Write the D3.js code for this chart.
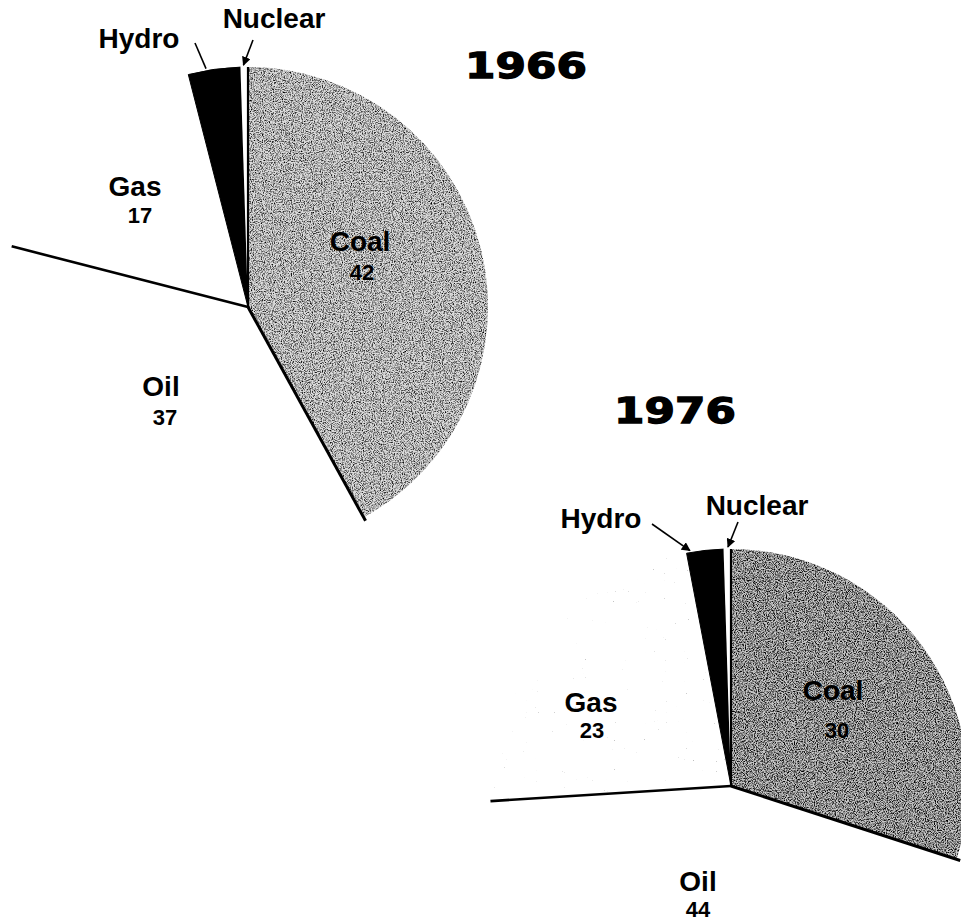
<!DOCTYPE html>
<html>
<head>
<meta charset="utf-8">
<script src="https://cdn.jsdelivr.net/npm/d3@7"></script>
<style>
  html, body { margin: 0; padding: 0; background: #fff; }
  svg { display: block; }
  .slice-label { font-family: "Liberation Sans", Arial, sans-serif; font-weight: bold; font-size: 28px; fill: #000; }
  .slice-value { font-family: "Liberation Sans", Arial, sans-serif; font-weight: bold; font-size: 22px; fill: #000; }
  .year { font-family: "DejaVu Sans", sans-serif; font-weight: bold; font-size: 35px; fill: #000; stroke: #000; stroke-width: 1.3px; }
</style>
</head>
<body>
<script>
'use strict';

// ── Data ──────────────────────────────────────────────────────
const fuels       = ['Coal', 'Oil', 'Gas', 'Hydro', 'Nuclear'];
const years       = ['1966', '1976'];
const shares1966  = [42, 37, 17, 3.5, 0.5];
const shares1976  = [30, 44, 23, 2.5, 0.5];
const shownValues = { '1966': ['42', '37', '17', '', ''], '1976': ['30', '44', '23', '', ''] };

// ── Layout ────────────────────────────────────────────────────
const WIDTH  = 961;
const HEIGHT = 922;

const charts = [
  { year: years[0], shares: shares1966, cx: 248, cy: 307, r: 240,
    title: [526, 78], coalBase: '#dcdcdc', coalGrain: 'grainLight', gasGrain: null,
    labels: { Coal: [360, 251, 362, 280], Oil: [161, 396, 165, 425], Gas: [135, 196, 140, 223] },
    callouts: {
      Hydro:   { text: [139, 48], from: [195, 43], t: 0.35, arrow: false },
      Nuclear: { text: [274, 28], from: [253, 40], t: 0.4,  arrow: true }
    } },
  { year: years[1], shares: shares1976, cx: 731, cy: 786, r: 237,
    title: [675, 423], coalBase: '#c6c6c6', coalGrain: 'grainDark', gasGrain: 'grainSparse',
    labels: { Coal: [833, 700, 837, 738], Oil: [698, 891, 698, 917], Gas: [591, 712, 592, 738] },
    callouts: {
      Hydro:   { text: [601, 528], from: [652, 524], t: 0.1, arrow: true },
      Nuclear: { text: [757, 515], from: [738, 522], t: 0.6, arrow: true }
    } }
];

const svg = d3.select('body').append('svg')
  .attr('width', WIDTH)
  .attr('height', HEIGHT);

const defs = svg.append('defs');

// stipple textures: black dots whose alpha comes from turbulence noise
function addGrain(id, freq, gain, offset, seed) {
  const f = defs.append('filter')
    .attr('id', id)
    .attr('x', '-5%').attr('y', '-5%')
    .attr('width', '110%').attr('height', '110%');
  f.append('feTurbulence')
    .attr('type', 'fractalNoise')
    .attr('baseFrequency', freq)
    .attr('numOctaves', 2)
    .attr('seed', seed)
    .attr('result', 'noise');
  f.append('feColorMatrix')
    .attr('in', 'noise')
    .attr('type', 'matrix')
    .attr('values', `0 0 0 0 0  0 0 0 0 0  0 0 0 0 0  ${gain} 0 0 0 ${offset}`)
    .attr('result', 'dots');
  f.append('feComposite')
    .attr('in', 'dots')
    .attr('in2', 'SourceGraphic')
    .attr('operator', 'in');
}
addGrain('grainLight',  0.9, 2.4, -1.0, 4);
addGrain('grainDark',   0.9, 2.8, -1.1, 9);
addGrain('grainSparse', 0.9, 3.0, -2.4, 2);

defs.append('marker')
  .attr('id', 'arrowhead')
  .attr('viewBox', '0 -5 10 10')
  .attr('refX', 9)
  .attr('refY', 0)
  .attr('markerWidth', 9)
  .attr('markerHeight', 9)
  .attr('markerUnits', 'userSpaceOnUse')
  .attr('orient', 'auto')
  .append('path')
    .attr('d', 'M0,-5L10,0L0,5Z')
    .attr('fill', '#000');

const pie = d3.pie().sort(null).value(d => d.value);

charts.forEach(chart => {
  const rows = fuels.map((f, i) => ({ fuel: f, value: chart.shares[i], shown: shownValues[chart.year][i] }));
  const arcs = pie(rows);
  const arc  = d3.arc().innerRadius(0).outerRadius(chart.r);

  const g = svg.append('g')
    .attr('transform', `translate(${chart.cx},${chart.cy})`);

  // ── Slices ──
  arcs.forEach(a => {
    const fuel = a.data.fuel;
    if (fuel === 'Coal') {
      g.append('path').attr('d', arc(a)).attr('fill', chart.coalBase);
      g.append('path').attr('d', arc(a)).attr('fill', '#000').attr('filter', `url(#${chart.coalGrain})`);
    } else if (fuel === 'Hydro') {
      g.append('path').attr('d', arc(a)).attr('fill', '#000')
        .attr('stroke', '#000').attr('stroke-width', 1);
    } else {
      g.append('path').attr('d', arc(a)).attr('fill', '#fff');
      if (fuel === 'Gas' && chart.gasGrain) {
        g.append('path').attr('d', arc(a)).attr('fill', '#000').attr('filter', `url(#${chart.gasGrain})`);
      }
    }
  });

  // ── Radial divider lines ──
  const byFuel = new Map(arcs.map(a => [a.data.fuel, a]));
  const dividers = [
    { angle: byFuel.get('Coal').startAngle, w: 2.2, len: chart.r },
    { angle: byFuel.get('Oil').startAngle,  w: 3,   len: chart.r + 4 },
    { angle: byFuel.get('Gas').startAngle,  w: 2.6, len: chart.r + 4 }
  ];
  dividers.forEach(dv => {
    const p = d3.pointRadial(dv.angle, dv.len);
    g.append('line')
      .attr('x1', 0).attr('y1', 0)
      .attr('x2', p[0]).attr('y2', p[1])
      .attr('stroke', '#000')
      .attr('stroke-width', dv.w);
  });

  // ── Name and value labels ──
  ['Coal', 'Oil', 'Gas'].forEach(f => {
    const pos = chart.labels[f];
    svg.append('text')
      .attr('class', 'slice-label')
      .attr('x', pos[0]).attr('y', pos[1])
      .attr('text-anchor', 'middle')
      .text(f);
    svg.append('text')
      .attr('class', 'slice-value')
      .attr('x', pos[2]).attr('y', pos[3])
      .attr('text-anchor', 'middle')
      .text(byFuel.get(f).data.shown);
  });

  // ── Call-outs for the thin slices ──
  ['Hydro', 'Nuclear'].forEach(f => {
    const c = chart.callouts[f];
    const a = byFuel.get(f);
    const ang = a.startAngle + c.t * (a.endAngle - a.startAngle);
    const tip = d3.pointRadial(ang, chart.r + 2);
    svg.append('text')
      .attr('class', 'slice-label')
      .attr('x', c.text[0]).attr('y', c.text[1])
      .attr('text-anchor', 'middle')
      .text(f);
    svg.append('line')
      .attr('x1', c.from[0]).attr('y1', c.from[1])
      .attr('x2', chart.cx + tip[0]).attr('y2', chart.cy + tip[1])
      .attr('stroke', '#000')
      .attr('stroke-width', 1.6)
      .attr('marker-end', c.arrow ? 'url(#arrowhead)' : null);
  });

  // ── Year title (wide heavy face) ──
  svg.append('text')
    .attr('class', 'year')
    .attr('text-anchor', 'middle')
    .attr('transform', `translate(${chart.title[0]},${chart.title[1]}) scale(1.25,1)`)
    .text(chart.year);
});
</script>
</body>
</html>
